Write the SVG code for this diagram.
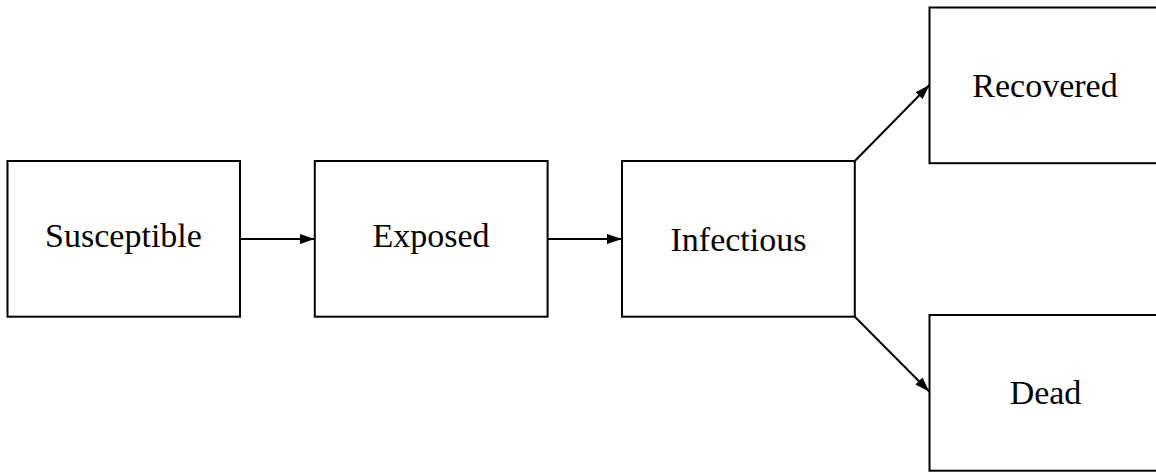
<svg xmlns="http://www.w3.org/2000/svg" width="1156" height="472" viewBox="0 0 1156 472">
<style>
.box{fill:#fff;stroke:#000;stroke-width:2}
.lbl{font-family:"Liberation Serif","Times New Roman",serif;font-size:34px;fill:#000;text-anchor:middle}
.edge{fill:none;stroke:#000;stroke-width:2;marker-end:url(#arr)}
</style>
<defs>
<marker id="arr" markerUnits="userSpaceOnUse" markerWidth="16" markerHeight="11" refX="15" refY="5" orient="auto">
<path d="M0,0 L15,5 L0,10 z" fill="#000"/>
</marker>
</defs>
<rect width="1156" height="472" fill="#fff"/>
<g id="susceptible"><rect class="box" x="7.5" y="161" width="232.5" height="155.7"/><text class="lbl" x="123.5" y="247">Susceptible</text></g>
<g id="exposed"><rect class="box" x="314.8" y="161" width="232.8" height="155.7"/><text class="lbl" x="431" y="247">Exposed</text></g>
<g id="infectious"><rect class="box" x="622" y="161" width="232.8" height="155.7"/><text class="lbl" x="738.5" y="251">Infectious</text></g>
<g id="recovered"><rect class="box" x="929.5" y="7.5" width="232.8" height="155.7"/><text class="lbl" x="1045" y="97">Recovered</text></g>
<g id="dead"><rect class="box" x="929.5" y="315" width="232.8" height="155.7"/><text class="lbl" x="1045.5" y="404">Dead</text></g>
<g id="connectors">
<line class="edge" x1="240" y1="239" x2="314.8" y2="239"/>
<line class="edge" x1="547.6" y1="239" x2="622" y2="239"/>
<line class="edge" x1="854.8" y1="161" x2="929.5" y2="85"/>
<line class="edge" x1="854.8" y1="316.7" x2="929.5" y2="391.7"/>
</g>
</svg>
